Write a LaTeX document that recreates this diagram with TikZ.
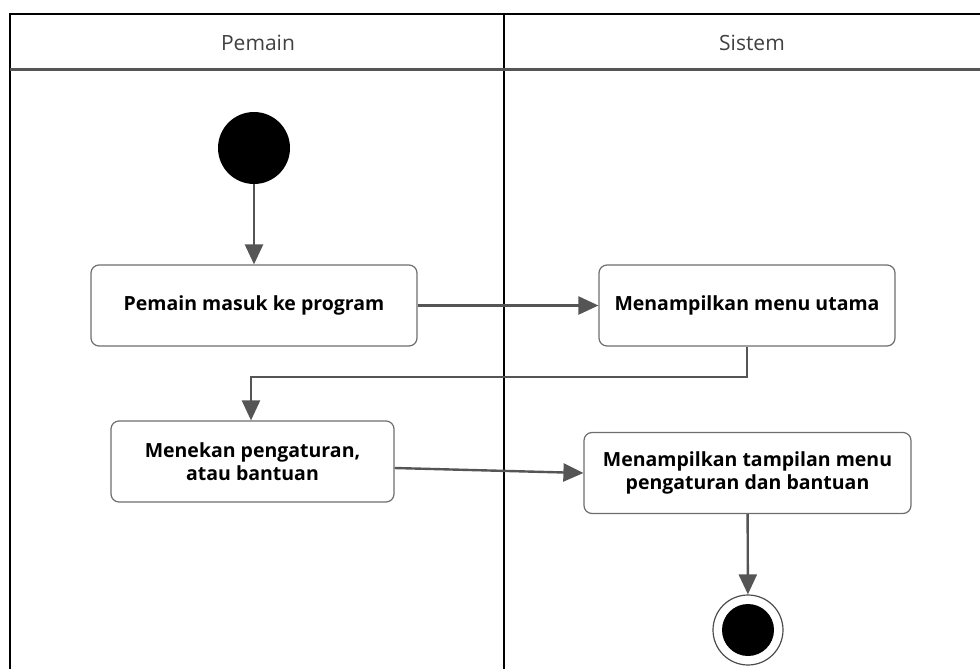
\documentclass[tikz,border=0pt]{standalone}
\usepackage{fontspec}
\setmainfont{Open Sans}
\usepackage{tikz}
\usetikzlibrary{arrows.meta,positioning}
\definecolor{flowgray}{HTML}{555555}
\definecolor{boxgray}{HTML}{6E6E6E}

\begin{document}
\begin{tikzpicture}[
  x=1pt,y=-1pt,
  >={Triangle[length=20pt,width=18pt]},
  act/.style={draw=boxgray,line width=1.2pt,rounded corners=8pt,fill=white,
    minimum height=81pt,align=center,font=\fontsize{19.5}{23.5}\selectfont\bfseries},
  flow/.style={draw=flowgray,line width=2.4pt,->},
  lane/.style={draw=black,line width=2pt},
  every node/.style={inner sep=0pt}
]
  \useasboundingbox (0,0) rectangle (980,669);
  % swimlanes
  \draw[lane] (10,669) -- (10,14) -- (980,14);
  \draw[lane] (504,14) -- (504,669);
  \draw[draw=flowgray,line width=3pt] (10,70) -- (980,70);
  \node[font=\fontsize{21}{24}\selectfont,text=black!75] (hpemain) at (258,43) {Pemain};
  \node[font=\fontsize{21}{24}\selectfont,text=black!75] (hsistem) at (752,43) {Sistem};

  % activities
  \node[circle,fill=black,minimum size=72pt] (start) at (254,148) {};
  \node[act,minimum width=326pt] (masuk) at (254,305.5) {Pemain masuk ke program};
  \node[act,minimum width=296pt] (menu) at (747,305.5) {Menampilkan menu utama};
  \node[act,minimum width=283pt] (tekan) at (252.5,461.5) {Menekan pengaturan,\\atau bantuan};
  \node[act,minimum width=327pt] (tampil) at (747.5,473) {Menampilkan tampilan menu\\pengaturan dan bantuan};
  \node[circle,draw=black!70,line width=1.2pt,minimum size=70pt] (stop) at (748,630) {};
  \node[circle,fill=black,minimum size=52pt] (stopin) at (stop) {};
  \coordinate (bend) at (251,377);

  % flows
  \draw[flow] (start) -- (masuk);
  \draw[flow] (masuk) -- (menu);
  \draw[flow] (menu.south) |- (bend) -- (tekan.north -| bend);
  \draw[flow] ([yshift=-6.5pt]tekan.east) -- (tampil.west);
  \draw[flow] (tampil) -- (stop);
\end{tikzpicture}
\end{document}
